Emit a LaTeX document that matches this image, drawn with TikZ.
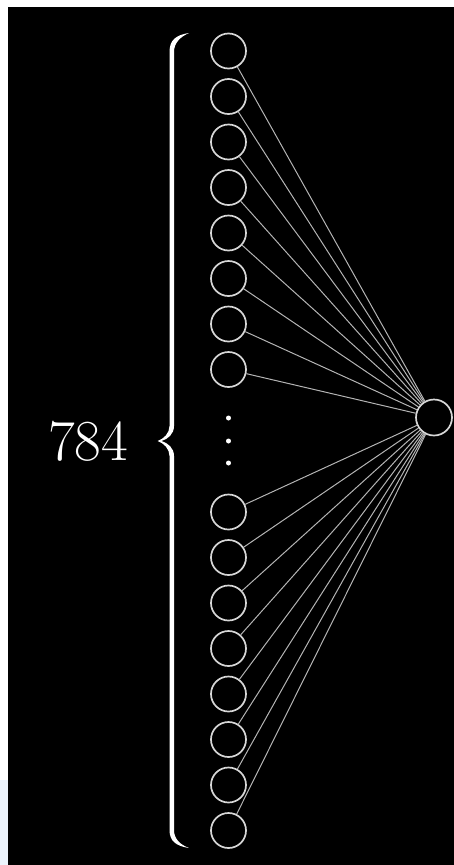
\documentclass[tikz,border=0pt]{standalone}
\begin{document}
\definecolor{neurongray}{RGB}{215,215,215}
\definecolor{linkgray}{RGB}{180,180,180}
\definecolor{paleblue}{RGB}{236,243,251}
\begin{tikzpicture}[x=1pt,y=-1pt,
  neuron/.style={circle,draw=neurongray,line width=1.7pt,minimum size=35pt,inner sep=0pt},
  link/.style={draw=linkgray,line width=1pt},
  vdot/.style={circle,fill=white,minimum size=5pt,inner sep=0pt},
  bracefill/.style={fill=white,draw=none}]
  \useasboundingbox (0,0) rectangle (454,865);
  % margins and background
  \fill[white] (0,0) rectangle (454,865);
  \fill[paleblue] (0,780) rectangle (8,865);
  \fill[black] (8,7) rectangle (454,865);

  % input layer: upper and lower groups
  \foreach \k in {1,...,8} {
    \node[neuron] (i\k) at (228.5,{51+45.5*(\k-1)}) {};
  }
  \foreach \k in {9,...,16} {
    \node[neuron] (i\k) at (228.5,{512+45.5*(\k-9)}) {};
  }
  % vertical ellipsis
  \node[vdot] (d1) at (228.5,418) {};
  \node[vdot] (d2) at (228.5,441) {};
  \node[vdot] (d3) at (228.5,463) {};

  % output neuron
  \node[neuron,minimum size=36pt] (o) at (434,417.5) {};

  % connections
  \foreach \k in {1,...,16} {
    \draw[link] (i\k) -- (o);
  }

  % curly brace
  \fill[bracefill]
    (189,33) .. controls (176,35) and (169.5,40) .. (169.5,52)
    -- (169.5,426) .. controls (169.5,433) and (164,439) .. (157.5,441)
    .. controls (164,443) and (169.5,449) .. (169.5,456)
    -- (169.5,830) .. controls (169.5,841) and (176,846) .. (189,848)
    .. controls (180,844.5) and (174,839) .. (174,830)
    -- (174,456) .. controls (174,448) and (168,443) .. (161.5,441)
    .. controls (168,439) and (174,434) .. (174,426)
    -- (174,52) .. controls (174,43) and (180,37) .. (189,33) -- cycle;

  % label
  \node[text=white,anchor=base,inner sep=0pt,font=\fontsize{58}{60}\selectfont] (n) at (88,460) {784};
\end{tikzpicture}
\end{document}
